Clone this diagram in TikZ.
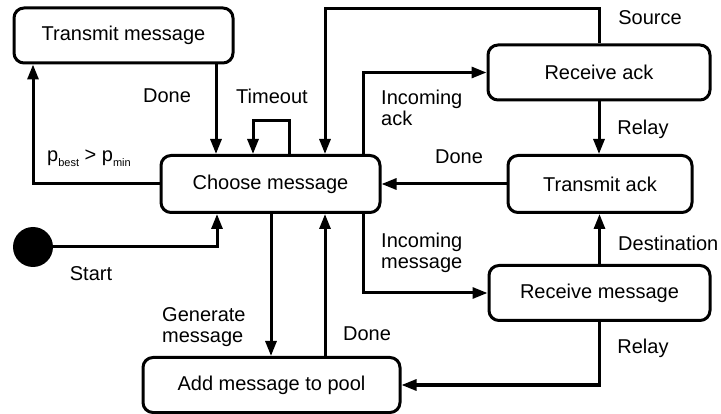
\documentclass[tikz,border=0pt]{standalone}
\usepackage{fontspec}
\setmainfont{Liberation Sans}
\usetikzlibrary{arrows.meta}
\begin{document}
\begin{tikzpicture}[x=1pt,y=-1pt,
  state/.style={draw,line width=3pt,rounded corners=10pt,inner sep=0pt,
    font=\fontsize{20}{21}\selectfont},
  lbl/.style={inner sep=0pt,font=\fontsize{20}{21}\selectfont},
  arr/.style={line width=3pt,-{Triangle[length=15pt,width=11pt]}}]
\useasboundingbox (0,0) rectangle (721,414);
% states
\node[state,minimum width=219pt,minimum height=55pt] (tm) at (123.5,35.5) {Transmit message};
\node[state,minimum width=219pt,minimum height=57pt] (cm) at (270.5,184) {Choose message};
\node[state,minimum width=222pt,minimum height=55pt] (ra) at (599,72.5) {Receive ack};
\node[state,minimum width=184pt,minimum height=57pt] (ta) at (600,184) {Transmit ack};
\node[state,minimum width=221pt,minimum height=55pt] (rm) at (599.5,293) {Receive message};
\node[state,minimum width=257pt,minimum height=55pt] (ap) at (271.5,385) {Add message to pool};
\node[circle,fill,minimum size=40pt,inner sep=0pt] (st) at (33,247) {};
% transitions
\draw[arr] (216,0 |- tm.south) -- (216,0 |- cm.north);
\draw[arr] (cm.west) -| (33,0 |- tm.south);
\draw[arr] (289,0 |- cm.north) -- (289,121) -| (253,0 |- cm.north);
\draw[arr] (ra.north) -- (ra.north |- 0,9) -| (325,0 |- cm.north);
\draw[arr] (363,0 |- cm.north) |- (ra.west);
\draw[arr] (ra.south) -- (ra.south |- ta.north);
\draw[arr] (ta.west) -- (cm.east);
\draw[arr] (rm.north) -- (rm.north |- ta.south);
\draw[arr] (363,0 |- cm.south) |- (rm.west);
\draw[arr] (rm.south) |- (ap.east);
\draw[arr] (271,0 |- cm.south) -- (271,0 |- ap.north);
\draw[arr] (325,0 |- ap.north) -- (325,0 |- cm.south);
\draw[arr] (st.east) -| (217,0 |- cm.south);
% labels
\node[lbl] (l1) at (167,96) {Done};
\node[lbl] (l2) at (272,96) {Timeout};
\node[lbl,anchor=west] (l3) at (47,158) {p\raisebox{-5pt}{\fontsize{11}{12}\selectfont best} > p\raisebox{-5pt}{\fontsize{11}{12}\selectfont min}};
\node[lbl] (l4) at (650,18) {Source};
\node[lbl,anchor=west,align=left] (l5) at (381,108) {Incoming\\ack};
\node[lbl] (l6) at (643,129) {Relay};
\node[lbl] (l7) at (459,157) {Done};
\node[lbl,anchor=west,align=left] (l8) at (381,253) {Incoming\\message};
\node[lbl,anchor=west] (l9) at (618,243) {Destination};
\node[lbl] (l10) at (643,348) {Relay};
\node[lbl] (l11) at (91,274) {Start};
\node[lbl,anchor=west,align=left] (l12) at (162,327) {Generate\\message};
\node[lbl] (l13) at (367,334) {Done};
\end{tikzpicture}
\end{document}
